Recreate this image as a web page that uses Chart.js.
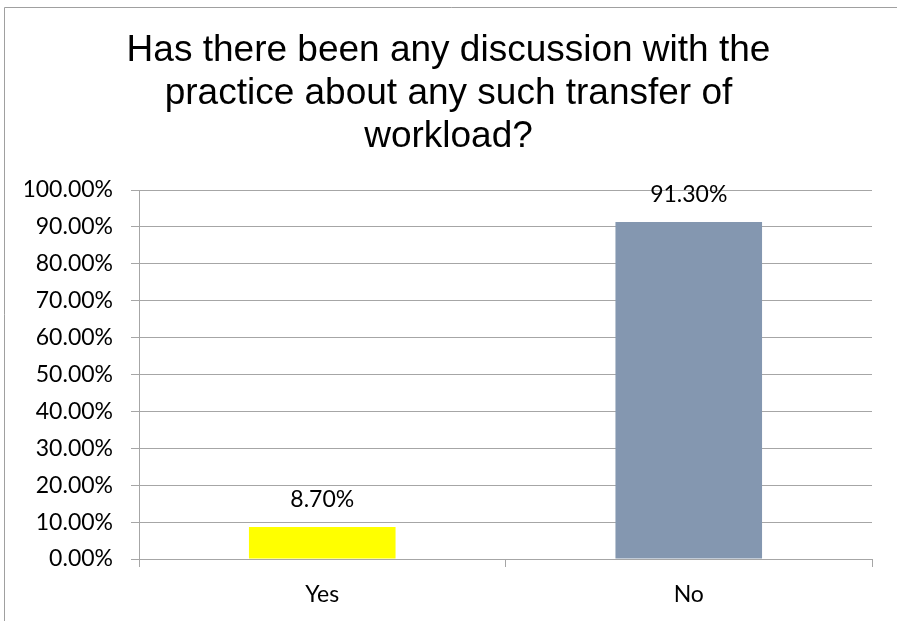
<!DOCTYPE html>
<html>
<head>
<meta charset="utf-8">
<script src="https://cdn.jsdelivr.net/npm/chart.js@4.4.1/dist/chart.umd.min.js"></script>
<style>
  html, body { margin: 0; padding: 0; background: #ffffff; }
  #wrap { position: relative; width: 897px; height: 621px; }
</style>
</head>
<body>
<div id="wrap"><canvas id="c" width="897" height="621"></canvas></div>
<script>
const titleLines = ["Has there been any discussion with the", "practice about any such transfer of", "workload?"];
const categories = ["Yes", "No"];
const values = [8.70, 91.30];
const barColors = ["#ffff00", "#8497b0"];
const yTicks = [0, 10, 20, 30, 40, 50, 60, 70, 80, 90, 100];

const gridColor = "#a6a6a6";

const framePlugin = {
  id: 'frame',
  beforeDraw(chart) {
    const ctx = chart.ctx;
    ctx.save();
    ctx.fillStyle = '#ffffff';
    ctx.fillRect(0, 0, chart.width, chart.height);
    ctx.strokeStyle = '#a0a0a0';
    ctx.lineWidth = 1;
    ctx.beginPath();
    ctx.moveTo(4.5, chart.height + 5);
    ctx.lineTo(4.5, 7.5);
    ctx.lineTo(chart.width + 5, 7.5);
    ctx.stroke();
    ctx.restore();
  }
};

const labelPlugin = {
  id: 'valueLabels',
  afterDatasetsDraw(chart) {
    const ctx = chart.ctx;
    const meta = chart.getDatasetMeta(0);
    ctx.save();
    ctx.font = '23px Lato';
    ctx.fillStyle = '#000000';
    ctx.textAlign = 'center';
    ctx.textBaseline = 'alphabetic';
    meta.data.forEach((bar, i) => {
      ctx.fillText(values[i].toFixed(2) + '%', bar.x, bar.y - 20);
    });
    ctx.restore();
  }
};

new Chart(document.getElementById('c'), {
  type: 'bar',
  data: {
    labels: categories,
    datasets: [{
      data: values,
      backgroundColor: barColors,
      borderWidth: 0,
      barPercentage: 0.4,
      categoryPercentage: 1.0
    }]
  },
  options: {
    responsive: false,
    animation: false,
    devicePixelRatio: 1,
    layout: { padding: { left: 25, right: 25, top: 0, bottom: 0 } },
    plugins: {
      legend: { display: false },
      tooltip: { enabled: false },
      title: {
        display: true,
        text: titleLines,
        color: '#000000',
        font: { family: 'Liberation Sans', size: 37, weight: 'normal', lineHeight: '43px' },
        padding: { top: 29, bottom: 32 }
      }
    },
    scales: {
      x: {
        grid: {
          display: true,
          drawOnChartArea: false,
          drawTicks: true,
          tickLength: 8,
          color: gridColor,
          offset: true
        },
        border: { display: true, color: gridColor },
        ticks: {
          color: '#000000',
          font: { family: 'Lato', size: 23 },
          padding: 14,
          maxRotation: 0
        },
        afterFit(scale) { scale.height = 62; }
      },
      y: {
        min: 0,
        max: 100,
        afterBuildTicks(scale) { scale.ticks = yTicks.map(v => ({ value: v })); },
        grid: {
          display: true,
          drawOnChartArea: true,
          drawTicks: true,
          tickLength: 8,
          color: gridColor
        },
        border: { display: true, color: gridColor },
        ticks: {
          color: '#000000',
          font: { family: 'Lato', size: 23 },
          padding: 18,
          callback: (v) => Number(v).toFixed(2) + '%'
        },
        afterFit(scale) { scale.width = 114; }
      }
    }
  },
  plugins: [framePlugin, labelPlugin]
});
</script>
</body>
</html>
